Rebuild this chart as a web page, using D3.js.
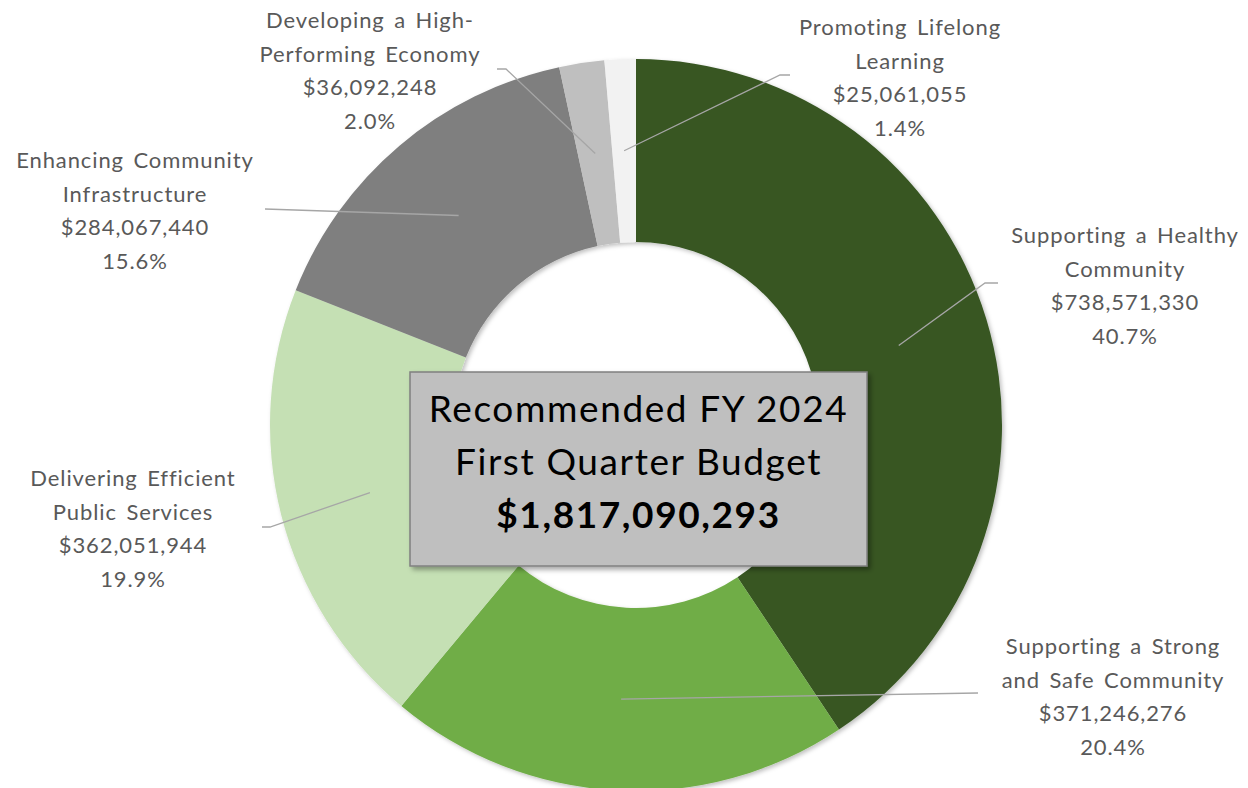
<!DOCTYPE html>
<html><head><meta charset="utf-8">
<script src="https://cdn.jsdelivr.net/npm/d3@7"></script>
<style>
html,body{margin:0;padding:0;background:#fff;}
svg{display:block;font-family:Lato,"Open Sans",sans-serif;}
</style></head>
<body><svg id="c" width="1248" height="788"></svg>
<script>
const categories = [
  "Supporting a Healthy Community",
  "Supporting a Strong and Safe Community",
  "Delivering Efficient Public Services",
  "Enhancing Community Infrastructure",
  "Developing a High-Performing Economy",
  "Promoting Lifelong Learning"
];
const labelLines = [
  ["Supporting a Healthy", "Community"],
  ["Supporting a Strong", "and Safe Community"],
  ["Delivering Efficient", "Public Services"],
  ["Enhancing Community", "Infrastructure"],
  ["Developing a High-", "Performing Economy"],
  ["Promoting Lifelong", "Learning"]
];
const values = [738571330, 371246276, 362051944, 284067440, 36092248, 25061055];
const percents = ["40.7%", "20.4%", "19.9%", "15.6%", "2.0%", "1.4%"];
const colors = ["#375623", "#70AD47", "#C5E0B4", "#7F7F7F", "#BFBFBF", "#F2F2F2"];
const titleLines = ["Recommended FY 2024", "First Quarter Budget"];
const totalLabel = "$1,817,090,293";

// layout (positions only)
const cx = 636, cy = 425, rOuter = 366, rInner = 183;
const labelPos = [
  {x:1125, y:243, elbow:[985,283], end:[998,283]},
  {x:1113, y:654, elbow:[978,693], end:[978,693]},
  {x:133,  y:486, elbow:[270,527], end:[262,527]},
  {x:135,  y:168, elbow:[265,209], end:[265,209]},
  {x:370,  y:28,  elbow:[506,69],  end:[497,69]},
  {x:900,  y:35,  elbow:[780,75],  end:[790,75]}
];

const svg = d3.select("#c");
const defs = svg.append("defs");
const f1 = defs.append("filter").attr("id","sh").attr("x","-10%").attr("y","-10%").attr("width","130%").attr("height","130%");
f1.append("feDropShadow").attr("dx",3).attr("dy",3).attr("stdDeviation",2.5).attr("flood-color","#000").attr("flood-opacity",0.35);
const f2 = defs.append("filter").attr("id","sh2").attr("x","-10%").attr("y","-10%").attr("width","130%").attr("height","130%");
f2.append("feDropShadow").attr("dx",2).attr("dy",2).attr("stdDeviation",2).attr("flood-color","#000").attr("flood-opacity",0.25);

const pie = d3.pie().sort(null).value(d => d)(values);
const arc = d3.arc().innerRadius(rInner).outerRadius(rOuter);
const g = svg.append("g").attr("transform", `translate(${cx},${cy})`);
g.append("g").attr("filter","url(#sh2)").selectAll("path").data(pie).join("path")
  .attr("d", arc).attr("fill", (d,i) => colors[i]);

// leader lines
const fmt = d3.format("$,");
pie.forEach((d,i) => {
  const c = arc.centroid(d);
  const p = labelPos[i];
  const pts = [[cx + c[0], cy + c[1]], p.elbow, p.end];
  svg.append("path").attr("d", d3.line()(pts))
    .attr("fill","none").attr("stroke","#A6A6A6").attr("stroke-width",1.3);
});

// labels
pie.forEach((d,i) => {
  const p = labelPos[i];
  const lines = labelLines[i].concat([fmt(values[i]), percents[i]]);
  const t = svg.append("text").attr("text-anchor","middle")
    .attr("fill","#595959").attr("font-size",22)
    .attr("letter-spacing",0.9).attr("word-spacing",3);
  lines.forEach((l,k) => t.append("tspan").attr("x", p.x).attr("y", p.y + k*33.5).text(l));
});

// center box
const bx = 410, by = 372, bw = 457, bh = 194;
svg.append("rect").attr("x",bx).attr("y",by).attr("width",bw).attr("height",bh)
  .attr("fill","#BFBFBF").attr("stroke","#808080").attr("stroke-width",1.5).attr("filter","url(#sh)");
const tt = svg.append("text").attr("text-anchor","middle").attr("fill","#000").attr("letter-spacing",1.6);
tt.append("tspan").attr("x", bx+bw/2).attr("y", 422).attr("font-size",37).text(titleLines[0]);
tt.append("tspan").attr("x", bx+bw/2).attr("y", 475).attr("font-size",37).text(titleLines[1]);
tt.append("tspan").attr("x", bx+bw/2).attr("y", 528).attr("font-size",37).attr("font-weight","bold").text(totalLabel);
</script></body></html>
